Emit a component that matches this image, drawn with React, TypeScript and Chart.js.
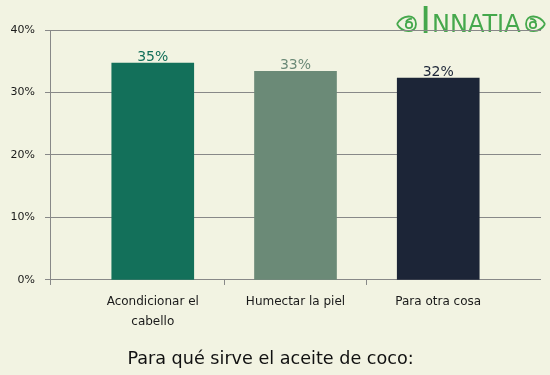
import React, { useEffect, useRef } from "react";
import { Chart, registerables } from "chart.js";

Chart.register(...registerables);

// ---- data ----
const categories: string[][] = [["Acondicionar el", "cabello"], ["Humectar la piel"], ["Para otra cosa"]];
const values: number[] = [34.7, 33.4, 32.3];
const valueLabels: string[] = ["35%", "33%", "32%"];
const yTicks: number[] = [0, 10, 20, 30, 40];
const titleText = "Para qué sirve el aceite de coco:";
const logoFirst = "I";
const logoRest = "NNATIA";

// ---- styles ----
const barColors = ["#13705a", "#6b8a77", "#1c2537"];
const BG = "#f2f3e2";
const GRID = "#888888";
const TEXT = "#1a1a1a";
const LOGO_GREEN = "#45a84c";
const FONT = "'DejaVu Sans', sans-serif";
const X_MIN = 0.28;
const X_MAX = 3.72;

const bgPlugin = {
  id: "bg",
  beforeDraw(chart: any) {
    const ctx = chart.ctx;
    ctx.save();
    ctx.fillStyle = BG;
    ctx.fillRect(0, 0, chart.width, chart.height);
    // logo
    ctx.fillStyle = LOGO_GREEN;
    ctx.strokeStyle = LOGO_GREEN;
    ctx.textBaseline = "alphabetic";
    ctx.textAlign = "left";
    ctx.font = `38px ${FONT}`;
    ctx.fillText(logoFirst, 420, 33);
    ctx.font = `24px ${FONT}`;
    ctx.fillText(logoRest, 432, 32);
    const drawLeaf = () => {
      ctx.lineWidth = 1.8;
      ctx.beginPath();
      ctx.moveTo(397, 24);
      ctx.bezierCurveTo(402, 15, 416, 13, 416, 24);
      ctx.bezierCurveTo(416, 34, 402, 33, 397, 24);
      ctx.stroke();
      ctx.beginPath();
      ctx.arc(409, 25, 3.2, 0, Math.PI * 2);
      ctx.stroke();
      ctx.beginPath();
      ctx.moveTo(406, 22);
      ctx.quadraticCurveTo(408, 18, 412, 19);
      ctx.stroke();
    };
    drawLeaf();
    ctx.translate(942, 0);
    ctx.scale(-1, 1);
    drawLeaf();
    ctx.restore();
  },
};

const valueLabelPlugin = {
  id: "valueLabels",
  afterDatasetsDraw(chart: any) {
    const ctx = chart.ctx;
    const meta = chart.getDatasetMeta(0);
    ctx.save();
    ctx.font = `14px ${FONT}`;
    ctx.textAlign = "center";
    ctx.textBaseline = "alphabetic";
    meta.data.forEach((bar: any, i: number) => {
      ctx.fillStyle = barColors[i];
      ctx.fillText(valueLabels[i], bar.x, bar.y - 2);
    });
    ctx.restore();
  },
};

export default function App() {
  const ref = useRef<HTMLCanvasElement | null>(null);
  useEffect(() => {
    document.body.style.margin = "0";
    document.body.style.background = BG;
    if (!ref.current) return;
    const chart = new Chart(ref.current, {
      type: "bar",
      data: {
        datasets: [
          {
            data: values.map((v, i) => ({ x: i + 1, y: v })),
            backgroundColor: barColors,
            barThickness: 82,
            borderWidth: 0,
          } as any,
        ],
      },
      options: {
        animation: false,
        responsive: false,
        devicePixelRatio: 1,
        layout: { padding: { top: 30, right: 9, left: 0, bottom: 0 } },
        plugins: {
          legend: { display: false },
          tooltip: { enabled: false },
          title: {
            display: true,
            text: titleText,
            position: "bottom",
            color: "#111",
            font: { family: FONT, size: 17.6, weight: "normal" as any, lineHeight: 1.2 },
            padding: { top: 9, bottom: 4.9 },
          },
        },
        scales: {
          x: {
            type: "linear",
            position: "bottom",
            min: X_MIN,
            max: X_MAX,
            bounds: "data",
            offset: false,
            weight: 1,
            grid: { display: false, drawTicks: false, offset: false },
            border: { display: false },
            afterBuildTicks: (s: any) => {
              s.ticks = categories.map((_, i) => ({ value: i + 1 }));
            },
            ticks: {
              autoSkip: false,
              maxRotation: 0,
              padding: 12,
              color: TEXT,
              font: { family: FONT, size: 12, lineHeight: 20 / 12 },
              callback: (v: any) => categories[Math.round(Number(v)) - 1] as any,
            },
            afterFit: (s: any) => {
              s.height = 60;
            },
          } as any,
          x2: {
            type: "linear",
            position: "bottom",
            min: X_MIN,
            max: X_MAX,
            bounds: "data",
            offset: false,
            weight: 0,
            ticks: { display: false },
            grid: { drawOnChartArea: false, tickLength: 5, color: GRID, offset: false },
            border: { display: false },
            afterBuildTicks: (s: any) => {
              s.ticks = [{ value: X_MIN }, { value: 1.5 }, { value: 2.5 }];
            },
            afterFit: (s: any) => {
              s.height = 0;
            },
          } as any,
          y: {
            min: 0,
            max: 40,
            afterBuildTicks: (s: any) => {
              s.ticks = yTicks.map((v) => ({ value: v }));
            },
            ticks: {
              padding: 10,
              color: TEXT,
              font: { family: FONT, size: 11 },
              callback: (v: any) => `${v}%`,
            },
            grid: { color: GRID, tickLength: 5 },
            border: { color: GRID },
            afterFit: (s: any) => {
              s.width = 50;
            },
          } as any,
        },
      },
      plugins: [bgPlugin, valueLabelPlugin],
    });
    return () => chart.destroy();
  }, []);
  return (
    <div style={{ width: 550, height: 375, background: BG }}>
      <canvas ref={ref} width={550} height={375} style={{ display: "block" }} />
    </div>
  );
}
